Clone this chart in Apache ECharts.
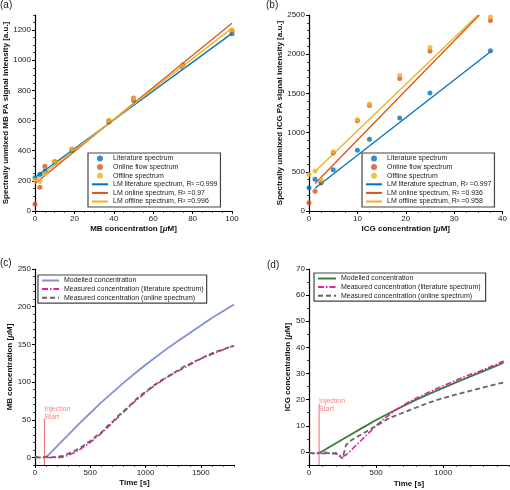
<!DOCTYPE html>
<html><head><meta charset="utf-8">
<script src="https://cdn.jsdelivr.net/npm/echarts@6/dist/echarts.min.js"></script>
<style>html,body{margin:0;padding:0;background:#fff}#c{width:510px;height:490px}</style>
</head><body><div id="c"></div>
<script>
// ---------- Panel (a): MB calibration ----------
const aConc = [0, 2.5, 5, 10, 18.75, 37.5, 50, 75, 100];
const aLit  = [221, 243, 265, 325, 402, 590, 734, 955, 1176];
const aOnl  = [44, 157, 296, 329, 410, 600, 750, 968, 1195];
const aOff  = [205, 195, 248, 330, 412, 600, 745, 960, 1200];
const aFitX   = [0, 100];
const aFitLit = [222, 1178];
const aFitOnl = [183, 1245];
const aFitOff = [203, 1213];
const aXTicks = [0, 20, 40, 60, 80, 100];
const aYTicks = [0, 200, 400, 600, 800, 1000, 1200];

// ---------- Panel (b): ICG calibration ----------
const bConc = [0, 1.25, 2.5, 5, 10, 12.5, 18.75, 25, 37.5];
const bLit  = [298, 404, 357, 527, 774, 914, 1186, 1505, 2045];
const bOnl  = [106, 251, 370, 740, 1150, 1345, 1690, 2040, 2430];
const bOff  = [465, 510, 395, 755, 1165, 1365, 1730, 2085, 2475];
const bFitLitX = [1.25, 37.5], bFitLit = [290, 2030];
const bFitOnlX = [1.25, 35.2], bFitOnl = [350, 2500];
const bFitOffX = [1.25, 34.9], bFitOff = [505, 2500];
const bXTicks = [0, 10, 20, 30, 40];
const bYTicks = [0, 500, 1000, 1500, 2000, 2500];

// ---------- Panel (c): MB time course ----------
const cModT = [100, 200, 300, 400, 500, 600, 700, 800, 900, 1000, 1100, 1200, 1300, 1400, 1500, 1600, 1700, 1800];
const cModV = [0, 15, 30, 45, 59, 73, 86, 99, 111, 123, 134, 145, 155, 165, 175, 185, 194, 203];
const cMeasT = [0, 50, 100, 150, 200, 250, 300, 350, 400, 450, 500, 550, 600, 650, 700, 750, 800, 850, 900, 950,
                1000, 1050, 1100, 1150, 1200, 1250, 1300, 1350, 1400, 1450, 1500, 1550, 1600, 1650, 1700, 1750, 1800];
const cLitV = [0, 0, 0, 0, 0, 0.5, 3, 6, 10, 15, 20, 26, 32, 39, 46, 53, 60, 67, 74, 80,
               86, 92, 97, 102, 107, 111, 115, 119, 123, 127, 131, 134, 137, 140, 143, 146, 148];
const cOnlV = [1, -0.5, 1, 0, 1, 2, 5, 8, 12, 17, 22, 28, 33, 41, 47, 55, 61, 68, 75, 82,
               87, 93, 98, 103, 107, 112, 116, 121, 124, 128, 131, 135, 138, 141, 143, 146, 148];
const cInj = [85, 51, 59];   // injection time, line top, label centre
const cXTicks = [0, 500, 1000, 1500];
const cYTicks = [0, 50, 100, 150, 200, 250];

// ---------- Panel (d): ICG time course ----------
const dModT = [90, 200, 300, 400, 500, 600, 700, 800, 900, 1000, 1100, 1200, 1300, 1400, 1450];
const dModV = [0, 3.3, 6.3, 9.3, 12.2, 14.9, 17.5, 20.0, 22.3, 24.5, 26.7, 28.8, 30.9, 33.0, 34.2];
const dMeasT = [0, 50, 100, 150, 200, 250, 275, 300, 350, 400, 450, 500, 550, 600, 650, 700, 750, 800, 850, 900, 950,
                1000, 1050, 1100, 1150, 1200, 1250, 1300, 1350, 1400, 1450];
const dLitV = [-0.5, -0.5, -0.6, -0.5, -0.7, -1.8, -1.2, 0, 2.5, 5, 7.5, 10, 12.3, 14.3, 16.2, 17.8, 19.3, 20.6, 21.8, 23, 24.2,
               25.3, 26.4, 27.5, 28.6, 29.6, 30.4, 31.5, 32.6, 33.6, 34.8];
const dOnlV = [-0.3, -0.8, 0.2, -0.6, -0.4, -2.5, 2.5, 4, 5.5, 7, 8.5, 10, 11.5, 13, 14, 15, 16, 17, 18, 19, 19.8,
               20.6, 21.3, 22, 22.7, 23.4, 24, 24.7, 25.3, 26, 26.6];
const dInj = [75, 18.4, 18];
const dXTicks = [0, 500, 1000];
const dYTicks = [0, 10, 20, 30, 40, 50, 60, 70];

// ---------- helpers ----------
const pairs = (xs, ys) => xs.map((x, i) => [x, ys[i]]);
const FONT = 'Liberation Sans, Arial, sans-serif';
const BLUE = '#0072BD', ORANGE = '#D95319', YELLOW = '#EDB120';
const MAG = '#E0209F', GRAY = '#666666';

function mainAxis(gi, min, max, ticks, name, gap, isY) {
  return {
    type: 'value', gridIndex: gi, min: min, max: max,
    position: isY ? 'left' : 'bottom',
    name: name, nameLocation: 'middle', nameGap: gap,
    nameTextStyle: { fontFamily: FONT, fontSize: 8, fontWeight: 'bold', color: '#111',
      rich: { i: { fontFamily: FONT, fontSize: 8, fontWeight: 'bold', fontStyle: 'italic', color: '#111' } } },
    axisLine: { show: true, onZero: false, lineStyle: { color: '#000', width: 1.2 } },
    axisTick: { show: true, customValues: ticks, length: 3, lineStyle: { color: '#000', width: 1 } },
    axisLabel: { customValues: ticks, formatter: v => String(v), fontFamily: FONT, fontSize: 8, color: '#222', margin: 4 },
    splitLine: { show: false }
  };
}
function minorAxis(gi, min, max, step, isY) {
  return {
    type: 'value', gridIndex: gi, min: min, max: max, interval: step,
    position: isY ? 'left' : 'bottom',
    axisLine: { show: false, onZero: false },
    axisTick: { show: true, length: 1.8, lineStyle: { color: '#000', width: 0.8 } },
    axisLabel: { show: false }, splitLine: { show: false }
  };
}
function line(name, xi, yi, data, color, width, type) {
  return { type: 'line', name: name, xAxisIndex: xi, yAxisIndex: yi, data: data,
    symbol: 'none', showSymbol: false, smooth: false, silent: true,
    lineStyle: { color: color, width: width, type: type || 'solid' },
    itemStyle: { color: color, opacity: 0 }, z: 3 };
}
function scat(name, xi, yi, data, color) {
  return { type: 'scatter', name: name, xAxisIndex: xi, yAxisIndex: yi, data: data,
    symbol: 'circle', symbolSize: 5, itemStyle: { color: color }, silent: true, z: 4 };
}
function inj(xi, yi, ymin, v) {
  return [
    { type: 'line', xAxisIndex: xi, yAxisIndex: yi, data: [[v[0], ymin], [v[0], v[1]]], symbol: 'none',
      lineStyle: { color: '#F26666', width: 1 }, silent: true, z: 2 },
    { type: 'scatter', xAxisIndex: xi, yAxisIndex: yi, data: [[v[0], v[2]]], symbolSize: 0, silent: true,
      label: { show: true, position: 'right', distance: 0, formatter: 'Injection\nStart',
        fontFamily: FONT, fontSize: 7, lineHeight: 8, color: '#F26666' } }
  ];
}
// names: [scatter..., line...]; nScat = number of scatter names
function legend(left, top, names, nScat, iw) {
  const data = names.map((n, i) => i < nScat ? { name: n, icon: 'circle' } : { name: n, itemStyle: { opacity: 0 } });
  return { left: left, top: top, orient: 'vertical', data: data,
    itemWidth: iw, itemHeight: 6, itemGap: 1.6, padding: [2, 3, 2, 3],
    backgroundColor: '#fff', borderColor: '#444', borderWidth: 1.2, borderRadius: 0,
    selectedMode: false, textStyle: { fontFamily: FONT, fontSize: 7, color: '#222', lineHeight: 7 } };
}

const grids = [
  { left: 35, top: 15, width: 197, height: 196 },
  { left: 309, top: 15, width: 198, height: 196 },
  { left: 35, top: 269, width: 199, height: 196 },
  { left: 309, top: 269, width: 200, height: 196 }
];

const xAxis = [
  mainAxis(0, 0, 100, aXTicks, 'MB concentration [{i|μ}M]', 14, false),
  mainAxis(1, 0, 40, bXTicks, 'ICG concentration [{i|μ}M]', 14, false),
  mainAxis(2, 0, 1800, cXTicks, 'Time [s]', 14, false),
  mainAxis(3, 0, 1490, dXTicks, 'Time [s]', 15, false),
  minorAxis(0, 0, 100, 5, false),
  minorAxis(1, 0, 40, 2.5, false),
  minorAxis(2, 0, 1800, 100, false),
  minorAxis(3, 0, 1490, 100, false)
];
const yAxis = [
  mainAxis(0, 0, 1300, aYTicks, 'Spectrally unmixed MB PA signal intensity [a.u.]', 24, true),
  mainAxis(1, 0, 2500, bYTicks, 'Spectrally unmixed ICG PA signal intensity [a.u.]', 25, true),
  mainAxis(2, -10, 250, cYTicks, 'MB concentration [{i|μ}M]', 21, true),
  mainAxis(3, -5, 70, dYTicks, 'ICG concentration [{i|μ}M]', 17, true),
  minorAxis(0, 0, 1300, 50, true),
  minorAxis(1, 0, 2500, 100, true),
  minorAxis(2, -10, 250, 10, true),
  minorAxis(3, -5, 70, 5, true)
];

const aNames = ['Literature spectrum', 'Online flow spectrum', 'Offline spectrum',
  'LM literature spectrum, R² =0.999', 'LM online spectrum, R² =0.97', 'LM offline spectrum, R² =0.996'];
const bNames = ['Literature spectrum ', 'Online flow spectrum ', 'Offline spectrum ',
  'LM literature spectrum, R² =0.997', 'LM online spectrum, R² =0.936', 'LM offline spectrum, R² =0.958'];
const cNames = ['Modelled concentration', 'Measured concentration (literature spectrum)', 'Measured concentration (online spectrum)'];
const dNames = ['Modelled concentration ', 'Measured concentration (literature spectrum) ', 'Measured concentration (online spectrum) '];

const series = [
  line(aNames[3], 0, 0, pairs(aFitX, aFitLit), BLUE, 1.3),
  line(aNames[4], 0, 0, pairs(aFitX, aFitOnl), ORANGE, 1.3),
  line(aNames[5], 0, 0, pairs(aFitX, aFitOff), YELLOW, 1.3),
  scat(aNames[0], 0, 0, pairs(aConc, aLit), BLUE),
  scat(aNames[1], 0, 0, pairs(aConc, aOnl), ORANGE),
  scat(aNames[2], 0, 0, pairs(aConc, aOff), YELLOW),

  line(bNames[3], 1, 1, pairs(bFitLitX, bFitLit), BLUE, 1.3),
  line(bNames[4], 1, 1, pairs(bFitOnlX, bFitOnl), ORANGE, 1.3),
  line(bNames[5], 1, 1, pairs(bFitOffX, bFitOff), YELLOW, 1.3),
  scat(bNames[0], 1, 1, pairs(bConc, bLit), BLUE),
  scat(bNames[1], 1, 1, pairs(bConc, bOnl), ORANGE),
  scat(bNames[2], 1, 1, pairs(bConc, bOff), YELLOW),

  line(cNames[0], 2, 2, pairs(cModT, cModV), '#8292D8', 1.8),
  line(cNames[1], 2, 2, pairs(cMeasT, cLitV), MAG, 1.6, [6, 2, 1.5, 2]),
  line(cNames[2], 2, 2, pairs(cMeasT, cOnlV), GRAY, 1.8, [5, 3]),
  ...inj(2, 2, -10, cInj),

  line(dNames[0], 3, 3, pairs(dModT, dModV), '#3A7D3A', 1.8),
  line(dNames[1], 3, 3, pairs(dMeasT, dLitV), MAG, 1.6, [6, 2, 1.5, 2]),
  line(dNames[2], 3, 3, pairs(dMeasT, dOnlV), GRAY, 1.8, [5, 3]),
  ...inj(3, 3, -5, dInj)
];

const option = {
  animation: false,
  backgroundColor: '#fff',
  title: [
    { text: '(a)', left: 0, top: 0 },
    { text: '(b)', left: 266, top: 0 },
    { text: '(c)', left: 0, top: 258 },
    { text: '(d)', left: 267, top: 260 }
  ].map(t => Object.assign(t, { padding: 0, textStyle: { fontFamily: FONT, fontSize: 10, fontWeight: 'normal', color: '#222' } })),
  grid: grids,
  xAxis: xAxis,
  yAxis: yAxis,
  legend: [
    legend(88, 153, aNames, 3, 16),
    legend(362, 153, bNames, 3, 16),
    legend(38, 275, cNames, 0, 17),
    legend(314, 273, dNames, 0, 18)
  ],
  series: series
};
const chart = echarts.init(document.getElementById('c'), null, { renderer: 'canvas' });
chart.setOption(option);
</script></body></html>
